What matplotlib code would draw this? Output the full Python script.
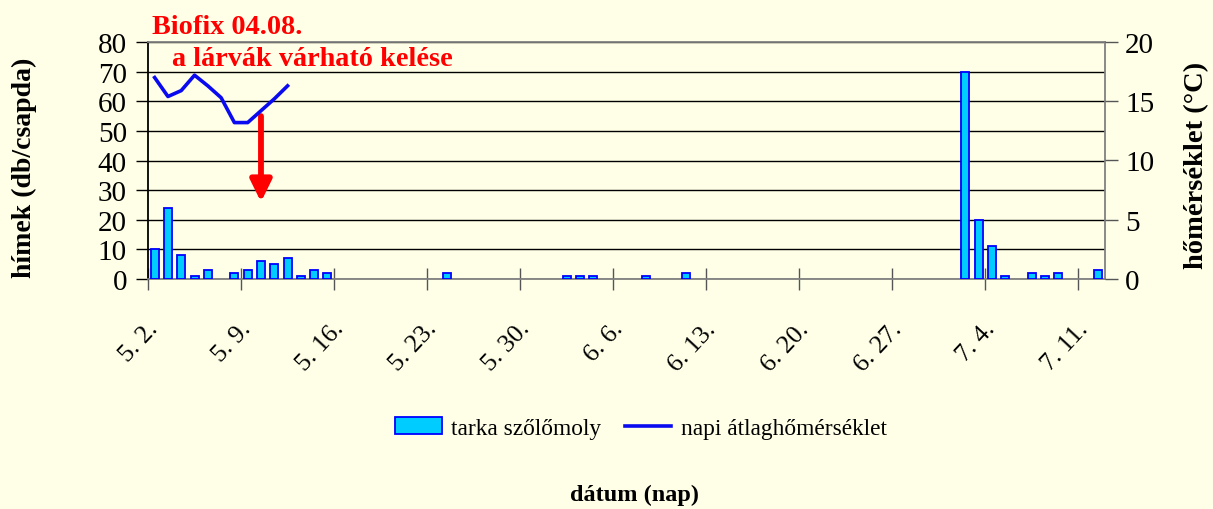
import numpy as np
import matplotlib
matplotlib.use("Agg")
import matplotlib.pyplot as plt
from matplotlib.patches import Patch
from matplotlib.lines import Line2D

# ---- data ----
start_labels = ["5. 2.", "5. 9.", "5. 16.", "5. 23.", "5. 30.", "6. 6.",
                "6. 13.", "6. 20.", "6. 27.", "7. 4.", "7. 11."]
n_days = 72
moth_counts = [10, 24, 8, 1, 3, 0, 2, 3, 6, 5, 7, 1, 3, 2,
               0, 0, 0, 0, 0, 0, 0, 0, 2, 0, 0, 0, 0, 0, 0, 0,
               0, 1, 1, 1, 0, 0, 0, 1, 0, 0, 2, 0, 0, 0, 0, 0,
               0, 0, 0, 0, 0, 0, 0, 0, 0, 0, 0, 0, 0, 0, 0,
               70, 20, 11, 1, 0, 2, 1, 2, 0, 0, 3]
temperature = [17.0, 15.4, 15.9, 17.2, 16.3, 15.3, 13.2, 13.2, 14.2, 15.2, 16.3]

series_bar = "tarka szőlőmoly"
series_line = "napi átlaghőmérséklet"

serif = ["Liberation Serif", "DejaVu Serif"]
plt.rcParams['font.family'] = serif

bg = "#FFFFE8"
fig = plt.figure(figsize=(12.13, 5.10), dpi=100, facecolor=bg)
ax = fig.add_axes([148/1213, 1-280/510, (1105-148)/1213, (280-43)/510])
ax.set_facecolor(bg)

x = np.arange(n_days)
counts = np.array(moth_counts, dtype=float)
mask = counts > 0
ax.bar(x[mask], counts[mask], width=0.6, color="#00CCFF", edgecolor="#0000FF",
       linewidth=1.3, zorder=3)

ax.set_xlim(-0.5, n_days - 0.5)
ax.set_ylim(0, 80)
ax.set_yticks(np.arange(0, 81, 10))
ax.yaxis.grid(True, color="black", linewidth=1.0, zorder=1)
ax.set_axisbelow(True)

# x ticks: boundaries as major (marks), category centers as minor (labels)
ax.set_xticks(np.arange(-0.5, n_days, 7))
ax.set_xticklabels([])
ax.tick_params(axis='x', which='major', direction='inout', length=16, width=1.0, color="#555555")
ax.set_xticks(np.arange(0, n_days, 7) + 0.3, minor=True)
ax.set_xticklabels(start_labels, minor=True)
ax.tick_params(axis='x', which='minor', length=0, pad=36, labelsize=18.5)
for lbl in ax.get_xticklabels(minor=True):
    lbl.set_rotation(47)
    lbl.set_rotation_mode('anchor')
    lbl.set_ha('right')
    lbl.set_va('baseline')

ax.tick_params(axis='y', which='major', direction='out', length=9, width=1.0,
               pad=6.2, labelsize=21, color="black")

for s in ['top', 'right', 'bottom']:
    ax.spines[s].set_color("#808080")
    ax.spines[s].set_linewidth(1.3)
ax.spines['left'].set_color("black")
ax.spines['left'].set_linewidth(1.3)

ax.set_ylabel("hímek (db/csapda)", fontsize=20, fontweight='bold')
ax.yaxis.set_label_coords((37-148)/957, (280-168)/237)

ax2 = ax.twinx()
ax2.set_ylim(0, 20)
ax2.set_yticks(np.arange(0, 21, 5))
ax2.plot(x[:len(temperature)], temperature, color="#0A0AF0", linewidth=2.6, zorder=4)
ax2.tick_params(axis='y', direction='out', length=9, width=1.0, pad=5.5,
                labelsize=21, color="#555555")
for s in ['top', 'right', 'bottom', 'left']:
    ax2.spines[s].set_visible(False)
ax2.set_ylabel("hőmérséklet (°C)", fontsize=20.5, fontweight='bold')
ax2.yaxis.set_label_coords((1184-148)/957, (280-165)/237)

# annotations
fig.text(152/1213, 1-34/510, "Biofix 04.08.", color="red",
         fontsize=20.3, fontweight='bold', ha='left', va='baseline')
fig.text(172/1213, 1-66/510, "a lárvák várható kelése", color="red",
         fontsize=20.3, fontweight='bold', ha='left', va='baseline')
ax.annotate("", xy=(8.0, 26), xytext=(8.0, 55),
            arrowprops=dict(arrowstyle="-|>,head_length=0.65,head_width=0.32",
                            color="red", lw=4.2, mutation_scale=20,
                            shrinkA=0, shrinkB=0), zorder=5)

# legend
handles = [Patch(facecolor="#00CCFF", edgecolor="#0000FF", linewidth=1.3),
           Line2D([0], [0], color="#0A0AF0", linewidth=2.6)]
fig.legend(handles, [series_bar, series_line], loc='center',
           bbox_to_anchor=(641/1213, 1-429/510), ncol=2, frameon=False,
           fontsize=16.8, handlelength=2.0, handletextpad=0.4, columnspacing=1.0)

fig.text(634/1213, 1-495/510, "dátum (nap)", fontsize=17.5, fontweight='bold',
         ha='center', va='center')

fig.savefig("out.png", dpi=100, facecolor=bg)
